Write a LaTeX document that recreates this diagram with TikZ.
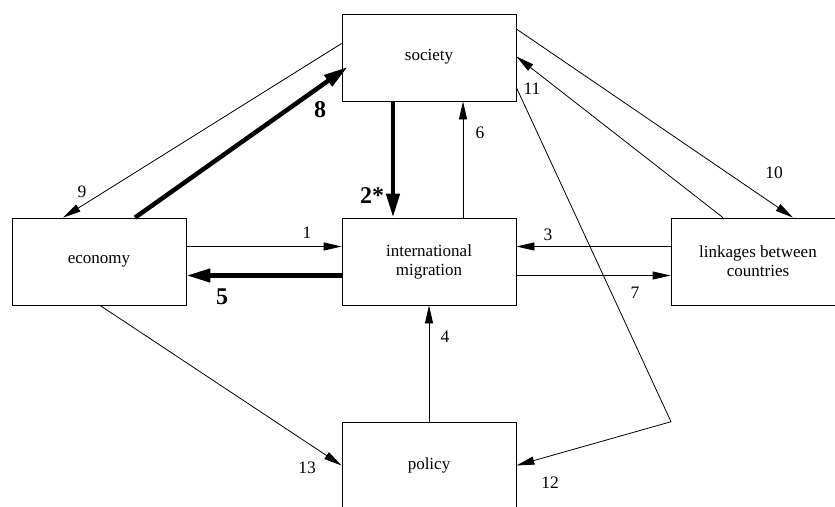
\documentclass[tikz,border=0pt]{standalone}
\usepackage{fontspec}
\setmainfont{Liberation Serif}
\usetikzlibrary{arrows.meta}
\tikzset{
  box/.style={draw, line width=0.8pt, minimum width=174pt, minimum height=87pt, inner sep=0pt, align=center, font=\fontsize{17}{19}\selectfont},
  thin/.style={line width=0.8pt, -{Triangle[length=18pt,width=8pt]}},
  heavy/.style={line width=4.5pt, -{Triangle[length=24pt,width=13pt]}},
  num/.style={inner sep=0pt, font=\fontsize{17.5}{20}\selectfont},
  bnum/.style={inner sep=0pt, font=\fontsize{24}{27}\selectfont\bfseries}
}
\begin{document}
\begin{tikzpicture}[x=1pt,y=-1pt]
\useasboundingbox (0,0) rectangle (835,506);
\clip (0,0) rectangle (835,506);
\node[box] (soc) at (429,57.5) {\raisebox{5pt}{society}};
\node[box] (econ) at (99,261.5) {\raisebox{4pt}{economy}};
\node[box] (mig) at (429,261.5) {international\\migration};
\node[box] (link) at (758,261.5) {linkages between\\countries};
\node[box] (pol) at (429,465.5) {\raisebox{-1pt}{policy}};
\coordinate (bend) at (671,421.7);
% connectors
\draw[thin] ([yshift=15pt]econ.east) -- ([yshift=15pt]mig.west);
\draw[heavy] ([xshift=-36pt]soc.south) -- ([xshift=-36pt]mig.north);
\draw[thin] ([yshift=15pt]link.west) -- ([yshift=15pt]mig.east);
\draw[thin] (pol.north) -- (mig.south);
\draw[heavy] ([yshift=-14pt]mig.west) -- ([yshift=-14pt]econ.east);
\draw[thin] ([xshift=34pt]mig.north) -- ([xshift=34pt]soc.south);
\draw[thin] ([yshift=-14pt]mig.east) -- ([yshift=-14pt]link.west);
\draw[heavy] ([xshift=36pt]econ.north) -- ([xshift=6pt,yshift=-9.5pt]soc.west);
\draw[thin] ([yshift=14pt]soc.west) -- ([xshift=-36pt]econ.north);
\draw[thin] ([yshift=28.5pt]soc.east) -- ([xshift=35pt]link.north);
\draw[thin] ([xshift=-35pt]link.north) -- ([yshift=1pt]soc.east);
\draw[thin] ([yshift=-30pt]soc.east) -- (bend) -- (pol.east);
\draw[thin] ([xshift=1pt]econ.south) -- (pol.west);
% labels
\node[num] (l1) at (307,233) {1};
\node[bnum] (l2) at (372,196) {2*};
\node[num] (l3) at (548,235) {3};
\node[num] (l4) at (445,337) {4};
\node[bnum] (l5) at (222,297) {5};
\node[num] (l6) at (480,133) {6};
\node[num] (l7) at (635,293) {7};
\node[bnum] (l8) at (320,110) {8};
\node[num] (l9) at (82,192) {9};
\node[num] (l10) at (774,173) {10};
\node[num] (l11) at (532,89) {11};
\node[num] (l12) at (550,483) {12};
\node[num] (l13) at (307,468) {13};
\end{tikzpicture}
\end{document}
